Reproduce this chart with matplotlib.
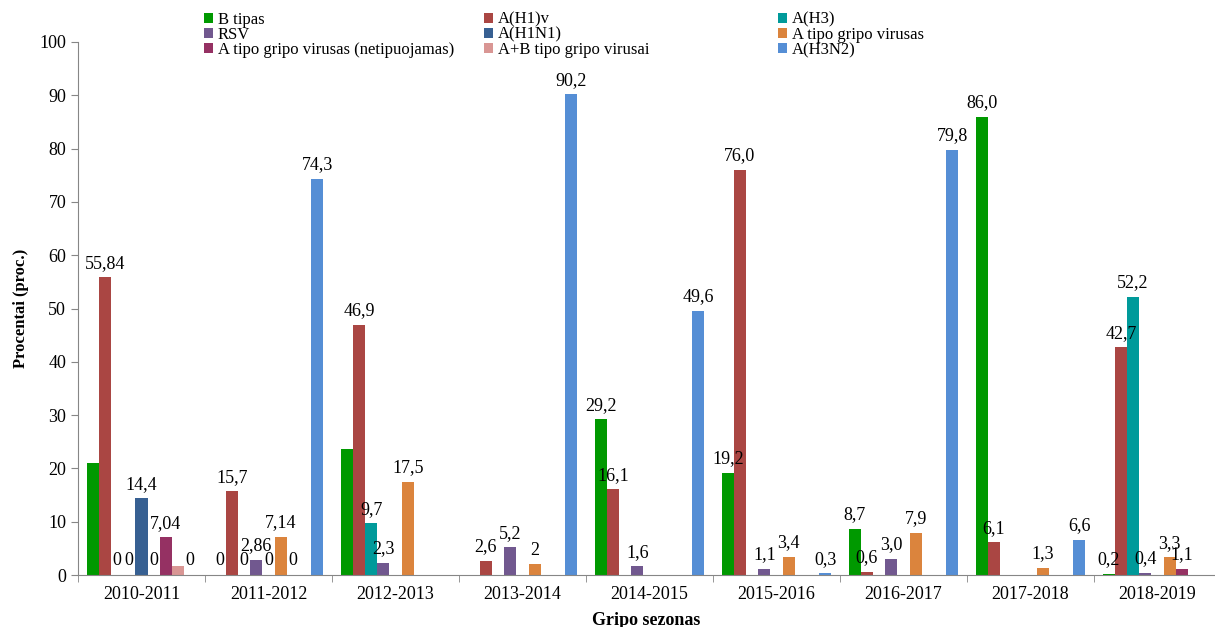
import matplotlib.pyplot as plt
import numpy as np

plt.rcParams['font.family'] = ['Liberation Serif', 'DejaVu Serif']

seasons = ['2010-2011', '2011-2012', '2012-2013', '2013-2014', '2014-2015',
           '2015-2016', '2016-2017', '2017-2018', '2018-2019']
nan = np.nan

series_names = ['B tipas', 'A(H1)v', 'A(H3)', 'RSV', 'A(H1N1)',
                'A tipo gripo virusas', 'A tipo gripo virusas (netipuojamas)',
                'A+B tipo gripo virusai', 'A(H3N2)']
colors = ['#009900', '#AA4643', '#009A9A', '#71588F', '#376092',
          '#DB843D', '#953163', '#D99694', '#558ED5']

b_tipas = [21.0, 0, 23.6, nan, 29.2, 19.2, 8.7, 86.0, 0.2]
a_h1v = [55.84, 15.7, 46.9, 2.6, 16.1, 76.0, 0.6, 6.1, 42.7]
a_h3 = [0, 0, 9.7, nan, nan, nan, nan, nan, 52.2]
rsv = [0, 2.86, 2.3, 5.2, 1.6, 1.1, 3.0, nan, 0.4]
a_h1n1 = [14.4, 0, nan, nan, nan, nan, nan, nan, nan]
a_tipo = [0, 7.14, 17.5, 2.0, nan, 3.4, 7.9, 1.3, 3.3]
a_netip = [7.04, 0, nan, nan, nan, nan, nan, nan, 1.1]
ab_tipo = [1.6, nan, nan, nan, nan, nan, nan, nan, nan]
a_h3n2 = [0, 74.3, nan, 90.2, 49.6, 0.3, 79.8, 6.6, nan]

b_tipas_lbl = [None, '0', None, None, '29,2', '19,2', '8,7', '86,0', '0,2']
a_h1v_lbl = ['55,84', '15,7', '46,9', '2,6', '16,1', '76,0', '0,6', '6,1', '42,7']
a_h3_lbl = ['0', '0', '9,7', None, None, None, None, None, '52,2']
rsv_lbl = ['0', '2,86', '2,3', '5,2', '1,6', '1,1', '3,0', None, '0,4']
a_h1n1_lbl = ['14,4', '0', None, None, None, None, None, None, None]
a_tipo_lbl = ['0', '7,14', '17,5', '2', None, '3,4', '7,9', '1,3', '3,3']
a_netip_lbl = ['7,04', '0', None, None, None, None, None, None, '1,1']
ab_tipo_lbl = [None] * 9
a_h3n2_lbl = ['0', '74,3', None, '90,2', '49,6', '0,3', '79,8', '6,6', None]

values = [b_tipas, a_h1v, a_h3, rsv, a_h1n1, a_tipo, a_netip, ab_tipo, a_h3n2]
labels = [b_tipas_lbl, a_h1v_lbl, a_h3_lbl, rsv_lbl, a_h1n1_lbl, a_tipo_lbl,
          a_netip_lbl, ab_tipo_lbl, a_h3n2_lbl]

fig = plt.figure(figsize=(12.15, 6.27), dpi=100)
ax = fig.add_axes([78 / 1215, 1 - 575 / 627, (1221 - 78) / 1215, (575 - 42) / 627])

x = np.arange(len(seasons))
w = 0.096
handles = []
for j in range(9):
    pos = x + (j - 4) * w
    h = ax.bar(pos, values[j], width=w, color=colors[j], label=series_names[j])
    handles.append(h)
    for px, v, t in zip(pos, values[j], labels[j]):
        if t is None:
            continue
        ax.annotate(t, (px, v), xytext=(0, 4), textcoords='offset points',
                    ha='center', va='bottom', fontsize=13)

ax.set_xlim(-0.5, 8.5)
ax.set_ylim(0, 100)
ax.set_yticks(range(0, 101, 10))
ax.set_xticks(x)
ax.set_xticklabels(seasons)
ax.set_xticks(np.arange(-0.5, 8.6, 1), minor=True)
ax.tick_params(axis='x', which='major', length=0, labelsize=13, pad=8)
ax.tick_params(axis='x', which='minor', length=5, color='#868686')
ax.tick_params(axis='y', length=5, color='#868686', labelsize=13)

for s in ['top', 'right']:
    ax.spines[s].set_visible(False)
for s in ['left', 'bottom']:
    ax.spines[s].set_color('#868686')

ax.set_ylabel('Procentai (proc.)', fontsize=12, fontweight='bold')
ax.yaxis.set_label_coords(-(78 - 29) / 1143, 0.5)
ax.set_xlabel('Gripo sezonas', fontsize=13, fontweight='bold')
ax.xaxis.set_label_coords((646 - 78) / 1143, -(612 - 575) / 533)

# legend in three columns
cols = [[0, 3, 6], [1, 4, 7], [2, 5, 8]]
col_x = [192, 472, 766]
for cx, idx in zip(col_x, cols):
    fig.legend([handles[k] for k in idx], [series_names[k] for k in idx],
               loc='upper left', bbox_to_anchor=(cx / 1215, 1.0),
               frameon=False, fontsize=12, handlelength=0.55, handleheight=0.55,
               handletextpad=0.3, labelspacing=-0.05, borderpad=0.2)

fig.savefig('out.png', dpi=100)
